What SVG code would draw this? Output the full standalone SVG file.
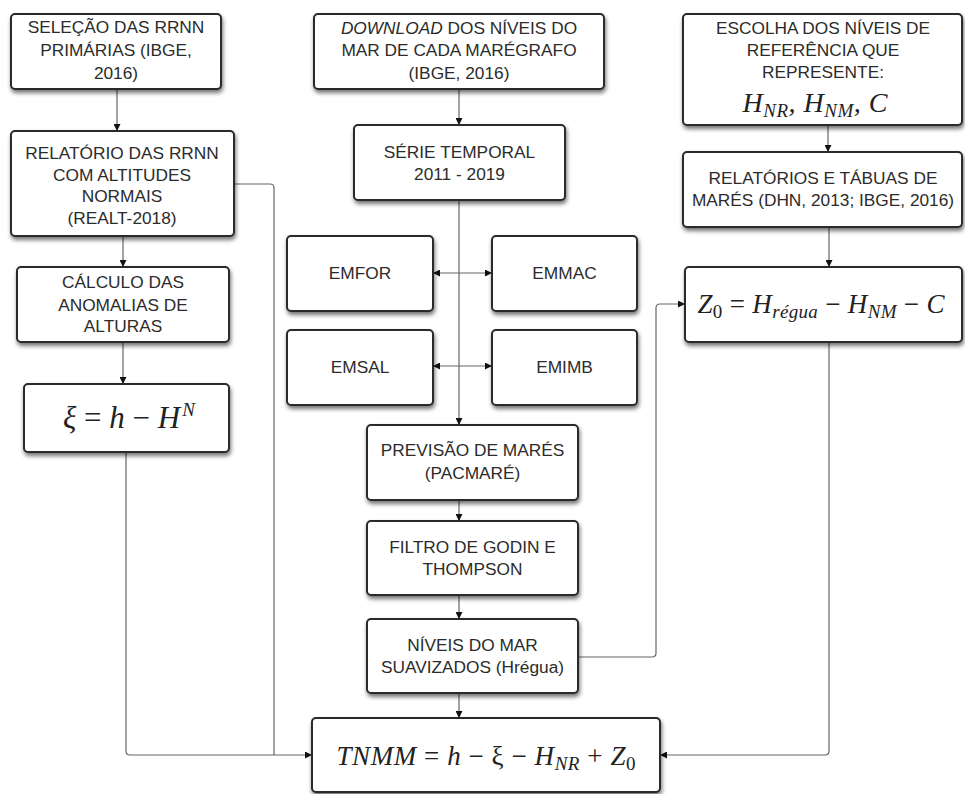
<svg xmlns="http://www.w3.org/2000/svg" width="965" height="794" viewBox="0 0 965 794">
<defs>
<filter id="sh" x="-10%" y="-10%" width="125%" height="135%">
<feDropShadow dx="1" dy="3" stdDeviation="2" flood-color="#000" flood-opacity="0.55"/>
</filter>
<marker id="ar" viewBox="0 0 10 10" refX="10" refY="5" markerWidth="7" markerHeight="7" markerUnits="userSpaceOnUse" orient="auto-start-reverse">
<path d="M0,0 L10,5 L0,10 z" fill="#111"/>
</marker>
<style>
.box{fill:#fff;stroke:#2a2a2a;stroke-width:2;filter:url(#sh)}
.t{font-family:"Liberation Sans",Arial,sans-serif;font-size:17.3px;fill:#2b2b2b;text-anchor:middle}
.m{font-family:"Liberation Serif","Times New Roman",serif;font-style:italic;fill:#222;text-anchor:middle}
.up{font-style:normal}
.c{fill:none;stroke:#666;stroke-width:1.2}
.ca{fill:none;stroke:#666;stroke-width:1.2;marker-end:url(#ar)}
.cb{fill:none;stroke:#666;stroke-width:1.2;marker-end:url(#ar);marker-start:url(#ar)}
</style>
</defs>
<rect width="965" height="794" fill="#fff"/>

<g id="connectors">
<path class="ca" d="M117,89 V131"/>
<path class="ca" d="M123,236 V267"/>
<path class="ca" d="M123,342 V384"/>
<path class="ca" d="M126,452 V751 Q126,755 130,755 H312"/>
<path class="c" d="M234,184 H270 Q274,184 274,188 V755"/>
<path class="ca" d="M459,89 V125"/>
<path class="ca" d="M459,200 V425"/>
<path class="cb" d="M433,273 H492"/>
<path class="cb" d="M433,366 H492"/>
<path class="ca" d="M459,500 V521"/>
<path class="ca" d="M459,595 V619"/>
<path class="ca" d="M459,693 V718"/>
<path class="ca" d="M578,657 H652 Q656,657 656,653 V308 Q656,304 660,304 H685"/>
<path class="ca" d="M828,125 V152"/>
<path class="ca" d="M829,227 V267"/>
<path class="ca" d="M829,342 V751 Q829,755 825,755 H660"/>
</g>

<g id="n-selecao">
<rect class="box" x="11" y="14" width="210" height="75" rx="4"/>
<text class="t" x="116" y="33">SELEÇÃO DAS RRNN</text>
<text class="t" x="116" y="56">PRIMÁRIAS (IBGE,</text>
<text class="t" x="116" y="79">2016)</text>
</g>

<g id="n-relatorio-rrnn">
<rect class="box" x="11" y="131" width="223" height="105" rx="4"/>
<text class="t" x="122" y="159">RELATÓRIO DAS RRNN</text>
<text class="t" x="122" y="181">COM ALTITUDES</text>
<text class="t" x="122" y="202">NORMAIS</text>
<text class="t" x="122" y="224">(REALT-2018)</text>
</g>

<g id="n-calculo">
<rect class="box" x="17" y="267" width="212" height="75" rx="4"/>
<text class="t" x="123" y="288">CÁLCULO DAS</text>
<text class="t" x="123" y="311">ANOMALIAS DE</text>
<text class="t" x="123" y="332">ALTURAS</text>
</g>

<g id="n-xi">
<rect class="box" x="24" y="384" width="205" height="68" rx="4"/>
<text class="m" x="129" y="428" font-size="31">ξ <tspan class="up">=</tspan> h <tspan class="up">−</tspan> H<tspan font-size="19" dx="2" dy="-12">N</tspan></text>
</g>

<g id="n-download">
<rect class="box" x="314" y="14" width="290" height="75" rx="4"/>
<text class="t" x="459" y="34"><tspan font-style="italic">DOWNLOAD</tspan> DOS NÍVEIS DO</text>
<text class="t" x="459" y="56">MAR DE CADA MARÉGRAFO</text>
<text class="t" x="459" y="79">(IBGE, 2016)</text>
</g>

<g id="n-serie">
<rect class="box" x="354" y="125" width="211" height="75" rx="4"/>
<text class="t" x="459.5" y="158">SÉRIE TEMPORAL</text>
<text class="t" x="459.5" y="180">2011 - 2019</text>
</g>

<g id="n-emfor">
<rect class="box" x="287" y="236" width="146" height="75" rx="4"/>
<text class="t" x="360" y="279">EMFOR</text>
</g>
<g id="n-emmac">
<rect class="box" x="492" y="236" width="145" height="75" rx="4"/>
<text class="t" x="564.5" y="279">EMMAC</text>
</g>
<g id="n-emsal">
<rect class="box" x="287" y="330" width="146" height="75" rx="4"/>
<text class="t" x="360" y="373">EMSAL</text>
</g>
<g id="n-emimb">
<rect class="box" x="492" y="330" width="145" height="75" rx="4"/>
<text class="t" x="564.5" y="373">EMIMB</text>
</g>

<g id="n-previsao">
<rect class="box" x="367" y="425" width="211" height="75" rx="4"/>
<text class="t" x="472.5" y="456">PREVISÃO DE MARÉS</text>
<text class="t" x="472.5" y="479">(PACMARÉ)</text>
</g>

<g id="n-filtro">
<rect class="box" x="367" y="521" width="211" height="74" rx="4"/>
<text class="t" x="472.5" y="553">FILTRO DE GODIN E</text>
<text class="t" x="472.5" y="575">THOMPSON</text>
</g>

<g id="n-niveis">
<rect class="box" x="367" y="619" width="211" height="74" rx="4"/>
<text class="t" x="472.5" y="651">NÍVEIS DO MAR</text>
<text class="t" x="472.5" y="673">SUAVIZADOS (Hrégua)</text>
</g>

<g id="n-escolha">
<rect class="box" x="683" y="14" width="279" height="111" rx="4"/>
<text class="t" x="823" y="34">ESCOLHA DOS NÍVEIS DE</text>
<text class="t" x="823" y="56">REFERÊNCIA QUE</text>
<text class="t" x="823" y="78">REPRESENTE:</text>
<text class="m" x="815" y="112" font-size="28" textLength="145" lengthAdjust="spacing">H<tspan font-size="19" dy="5">NR</tspan><tspan dy="-5">, H</tspan><tspan font-size="19" dy="5">NM</tspan><tspan dy="-5">, C</tspan></text>
</g>

<g id="n-relatorios-tabuas">
<rect class="box" x="683" y="152" width="279" height="75" rx="4"/>
<text class="t" x="823" y="184">RELATÓRIOS E TÁBUAS DE</text>
<text class="t" x="823" y="206">MARÉS (DHN, 2013; IBGE, 2016)</text>
</g>

<g id="n-z0">
<rect class="box" x="685" y="267" width="277" height="75" rx="4"/>
<text class="m" x="821" y="313" font-size="27" textLength="247" lengthAdjust="spacing">Z<tspan class="up" font-size="19" dy="5">0</tspan><tspan class="up" dy="-5"> = </tspan>H<tspan font-size="19" dy="5">régua</tspan><tspan class="up" dy="-5"> − </tspan>H<tspan font-size="19" dy="5">NM</tspan><tspan class="up" dy="-5"> − </tspan>C</text>
</g>

<g id="n-tnmm">
<rect class="box" x="312" y="718" width="348" height="74" rx="4"/>
<text class="m" x="486" y="765" font-size="27" textLength="299" lengthAdjust="spacing">TNMM<tspan class="up"> = </tspan>h<tspan class="up"> − ξ − </tspan>H<tspan font-size="19" dy="5">NR</tspan><tspan class="up" dy="-5"> + </tspan>Z<tspan class="up" font-size="19" dy="5">0</tspan></text>
</g>
</svg>
